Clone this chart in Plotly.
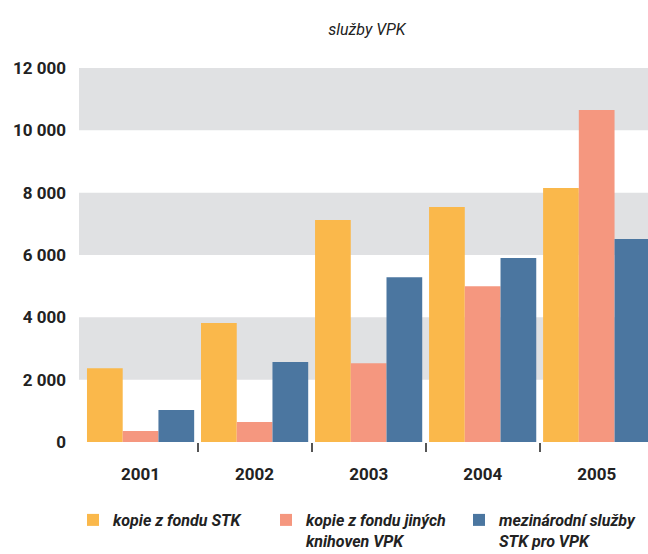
import plotly.graph_objects as go

years = ["2001", "2002", "2003", "2004", "2005"]
series_names = [
    "kopie z fondu STK",
    "kopie z fondu jiných<br>knihoven VPK",
    "mezinárodní služby<br>STK pro VPK",
]
kopie_stk = [2370, 3820, 7120, 7540, 8150]
kopie_jinych = [350, 640, 2530, 5000, 10650]
mezinarodni = [1030, 2570, 5290, 5900, 6510]
y_ticks = [0, 2000, 4000, 6000, 8000, 10000, 12000]

colors = ["#FAB84B", "#F5977F", "#4B76A0"]
FONT = "Roboto, Liberation Sans, sans-serif"

W, H = 648, 554
L, T, B = 79, 68, 112
plot_h = H - T - B
plot_w = W - L

xpos = list(range(len(years)))
fig = go.Figure()
for name, vals, col in zip(series_names, [kopie_stk, kopie_jinych, mezinarodni], colors):
    fig.add_trace(go.Bar(x=xpos, y=vals, name=name, marker=dict(color=col, line=dict(width=0))))

# alternating grey bands (background styling)
for lo, hi in zip(y_ticks[1::2], y_ticks[2::2]):
    fig.add_shape(type="rect", xref="paper", yref="y", x0=0, x1=1, y0=lo, y1=hi,
                  fillcolor="#E0E1E3", line=dict(width=0), layer="below")

fig.update_layout(
    width=W, height=H,
    margin=dict(l=L, r=0, t=T, b=B, autoexpand=False),
    paper_bgcolor="white", plot_bgcolor="white",
    barmode="group", bargap=0.06, bargroupgap=0,
    separators=", ",
    font=dict(family=FONT, color="#222222", size=16),
    title=dict(text="<i>služby VPK</i>", x=0.506, xref="paper", xanchor="center",
               y=1 - 29 / H, yref="container", yanchor="middle",
               font=dict(family=FONT, size=16, color="#222222")),
    xaxis=dict(range=[-0.54, 4.45], tickmode="array", tickvals=xpos, ticktext=years,
               ticks="", showgrid=False, zeroline=False, showline=False,
               tickfont=dict(family=FONT, size=17, color="#222222", weight="bold"),
               ticklabelstandoff=20,
               minor=dict(tickmode="array", tickvals=[i + 0.5 for i in xpos[:-1]],
                          ticks="outside", ticklen=9, tickwidth=1.5, tickcolor="#555555",
                          showgrid=False)),
    yaxis=dict(range=[0, 12000], tickmode="array", tickvals=y_ticks, tickformat=",d",
               showgrid=False, zeroline=False, showline=False, ticks="",
               ticklabelstandoff=12,
               tickfont=dict(family=FONT, size=17, color="#222222", weight="bold")),
    legend=dict(orientation="h", xref="paper", x=(73 - L) / plot_w, xanchor="left",
                yref="paper", y=-(503 - (H - B)) / plot_h, yanchor="top",
                entrywidth=148, entrywidthmode="pixels", valign="top",
                font=dict(family=FONT, size=16, color="#222222", style="italic", weight="bold"),
                traceorder="normal", bgcolor="rgba(0,0,0,0)"),
    showlegend=True,
)

fig.write_html("out.html", config={"displayModeBar": False},
               post_script="document.body.style.margin='0';document.body.style.overflow='hidden';")
